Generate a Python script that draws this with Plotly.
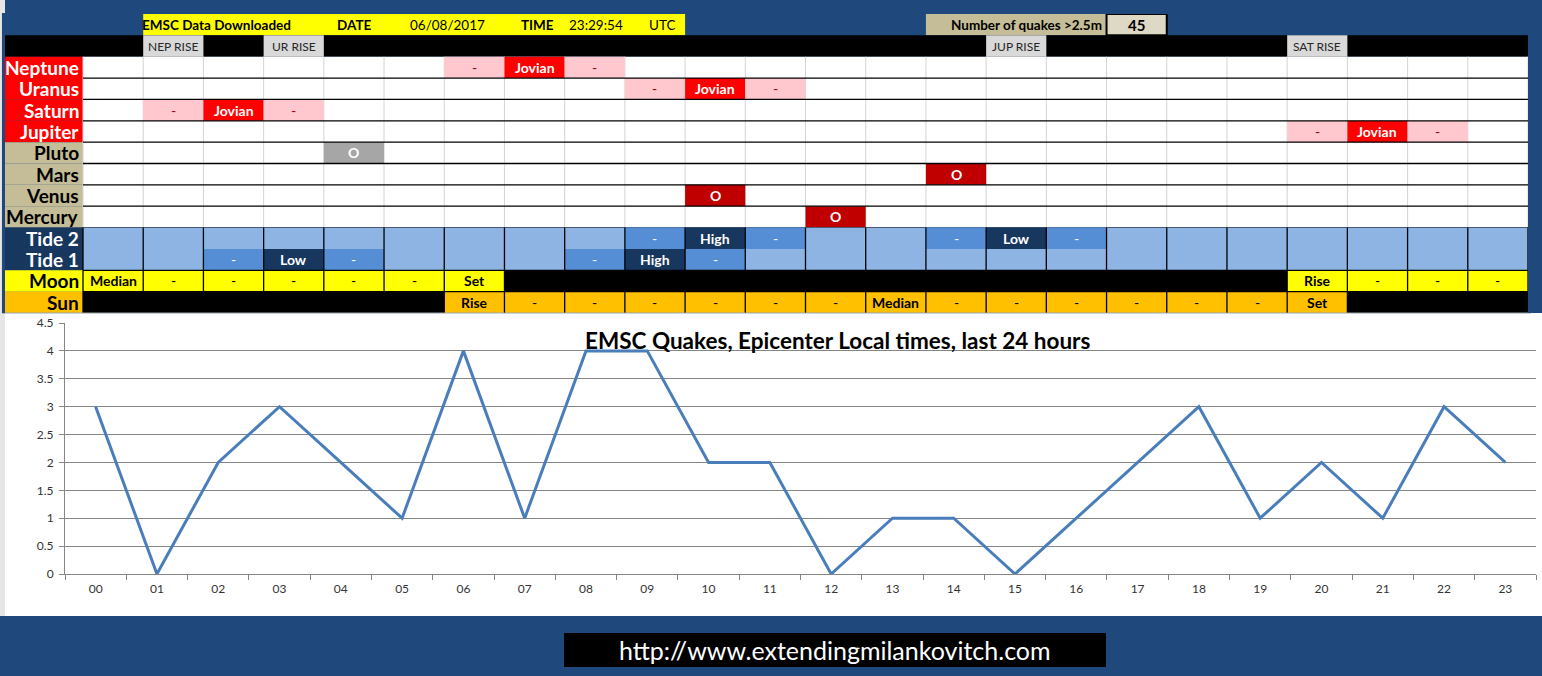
import plotly.graph_objects as go

# ---------------- data ----------------
hours = [f"{h:02d}" for h in range(24)]
quakes = [3, 0, 2, 3, 2, 1, 4, 1, 4, 4, 2, 2, 0, 1, 1, 0, 1, 2, 3, 1, 2, 1, 3, 2]

download_date = "06/08/2017"
download_time = "23:29:54"

planets = ["Neptune", "Uranus", "Saturn", "Jupiter", "Pluto", "Mars", "Venus", "Mercury"]
jovian_hour = {"Neptune": 7, "Uranus": 10, "Saturn": 2, "Jupiter": 21}
opposition_hour = {"Pluto": 4, "Mars": 14, "Venus": 10, "Mercury": 12}
rise_labels = {1: "NEP RISE", 3: "UR RISE", 15: "JUP RISE", 20: "SAT RISE"}

tide2 = [""] * 9 + ["-", "High", "-"] + ["", ""] + ["-", "Low", "-"] + [""] * 7
tide1 = ["", "", "-", "Low", "-", "", "", "", "-", "High", "-"] + [""] * 13
moon = ["Median", "-", "-", "-", "-", "-", "Set"] + [None] * 13 + ["Rise", "-", "-", "-"]
sun = [None] * 6 + ["Rise"] + ["-"] * 6 + ["Median"] + ["-"] * 6 + ["Set"] + [None] * 3

# ---------------- styles ----------------
W, H = 1542, 676
FONT = "Lato"
BG = "#1F497D"
RED = "#FF0000"
PINK = "#FFC7CE"
DKRED_TXT = "#9C0006"
TAN = "#C4BD97"
LTAN = "#DDD9C4"
GREY = "#D9D9D9"
PLUTO = "#A6A6A6"
OPP = "#C00000"
TIDE_L = "#8DB4E2"
TIDE_M = "#558ED5"
NAVY = "#17375E"
YEL = "#FFFF00"
ORA = "#FFC000"
PEACH = "#FDEADA"
LINE = "#4A7EBB"
AX = "#868686"
CELL_FS = 14
LABEL_FS = 19


def px(x):
    return x / W


def py(y):
    return 1 - y / H


TABLE_L, COL0, TABLE_R, TABLE_T, TABLE_B = 5, 83, 1528, 14, 313
col_w = (TABLE_R - COL0) / 24
LX = -(COL0 - TABLE_L) / col_w  # label column left edge in column units


def cx(x):
    return (x - COL0) / col_w


shapes = []
ann = []


def rect(x0, x1, r0, r1, fill, lc=None, lw=0, xref="x2", yref="y2", layer="above"):
    shapes.append(dict(type="rect", xref=xref, yref=yref, x0=x0, x1=x1, y0=r0, y1=r1,
                       fillcolor=fill, layer=layer,
                       line=dict(width=lw, color=lc or fill)))


def seg(x0, x1, y0, y1, color="black", w=1):
    shapes.append(dict(type="line", xref="x2", yref="y2", x0=x0, x1=x1, y0=y0, y1=y1,
                       layer="above", line=dict(width=w, color=color)))


def txt(x, y, s, color="black", size=CELL_FS, bold=True, xanchor="center"):
    ann.append(dict(x=x, y=y, xref="x2", yref="y2", text=f"<b>{s}</b>" if bold else s,
                    showarrow=False, xanchor=xanchor, yanchor="middle",
                    font=dict(family=FONT, size=size, color=color)))


# paper-level backgrounds
rect(px(0), px(5), py(616), 1, "#E6E6E6", xref="paper", yref="paper", layer="below")
rect(px(5), px(1542), py(616), py(313), "white", xref="paper", yref="paper", layer="below")

# cover the table subplot
rect(-0.002, 1.002, -0.001, 1.003, BG, xref="x2 domain", yref="y2 domain")

# header row (row 0)
rect(1, 10, 0, 1, YEL)
rect(14, 17, 0, 1, TAN)
rect(17, 18, 0, 1, LTAN, lc="black", lw=2)
txt(cx(140), 0.5, "EMSC Data Downloaded", size=13.5, xanchor="left")
txt(cx(335), 0.5, "DATE", size=13.5, xanchor="left")
txt(cx(408), 0.5, download_date, size=13.5, bold=False, xanchor="left")
txt(cx(519), 0.5, "TIME", size=13.5, xanchor="left")
txt(cx(567), 0.5, download_time, size=13.5, bold=False, xanchor="left")
txt(cx(647), 0.5, "UTC", size=13.5, bold=False, xanchor="left")
txt(16.95, 0.5, "Number of quakes >2.5m", size=13.5, xanchor="right")
txt(17.5, 0.5, str(sum(quakes)), size=15)

# rise row (row 1)
rect(LX, 24, 1, 2, "black")
for h, lab in rise_labels.items():
    rect(h, h + 1, 1, 2, GREY)
    txt(h + 0.5, 1.5, lab, color="#262626", size=12, bold=False)

# planet rows (rows 2..9)
P0 = 2
rect(0, 24, P0, P0 + len(planets), "white")
for i, p in enumerate(planets):
    r = P0 + i
    rect(LX, 0, r, r + 1, RED if p in jovian_hour else TAN)
for x in range(25):
    seg(x, x, P0, P0 + len(planets), color="#D4D4D4", w=1)
for i, p in enumerate(planets):
    r = P0 + i
    if p in jovian_hour:
        h = jovian_hour[p]
        rect(h - 1, h, r, r + 1, PINK)
        rect(h, h + 1, r, r + 1, RED)
        rect(h + 1, h + 2, r, r + 1, PINK)
        txt(h - 0.5, r + 0.5, "-", color=DKRED_TXT, bold=False)
        txt(h + 0.5, r + 0.5, "Jovian", color="white")
        txt(h + 1.5, r + 0.5, "-", color=DKRED_TXT, bold=False)
    if p in opposition_hour:
        h = opposition_hour[p]
        rect(h, h + 1, r, r + 1, PLUTO if p == "Pluto" else OPP)
        txt(h + 0.5, r + 0.5, "O", color="white")
    txt(-0.04, r + 0.5, p, color="white" if p in jovian_hour else "black",
        size=LABEL_FS, xanchor="right")
for y in range(P0 + 1, P0 + len(planets) + 1):
    seg(0, 24, y, y, w=1.3)

# tide rows
T2, T1 = 10, 11
rect(0, 24, T2, T1 + 1, TIDE_L)
rect(LX, 0, T2, T1 + 1, NAVY)
for r, row, name in [(T2, tide2, "Tide 2"), (T1, tide1, "Tide 1")]:
    for h, v in enumerate(row):
        if v:
            rect(h, h + 1, r, r + 1, TIDE_M if v == "-" else NAVY)
            txt(h + 0.5, r + 0.5, v, color="white", bold=(v != "-"))
    txt(-0.04, r + 0.5, name, color="white", size=LABEL_FS, xanchor="right")
for x in range(25):
    seg(x, x, T2, T1 + 1, w=1.3)

# moon and sun rows
MO, SU = 12, 13
rect(LX, 0, MO, MO + 1, YEL)
rect(LX, 0, SU, SU + 1, ORA)
for r, row, col in [(MO, moon, YEL), (SU, sun, ORA)]:
    for h, v in enumerate(row):
        rect(h, h + 1, r, r + 1, "black" if v is None else col)
        if v is not None:
            txt(h + 0.5, r + 0.5, v, bold=(v != "-"))
txt(-0.04, MO + 0.5, "Moon", size=LABEL_FS, xanchor="right")
txt(-0.04, SU + 0.5, "Sun", size=LABEL_FS, xanchor="right")
for x in range(25):
    seg(x, x, MO, SU + 1, w=1.3)
for y in (MO, SU):
    seg(0, 24, y, y, w=1.3)
seg(LX, 24, SU + 1, SU + 1, color="#A0A0A0", w=1)

# URL box
rect(px(564), px(1106), py(667), py(633), "black", xref="paper", yref="paper")
ann.append(dict(x=px(835), y=py(650), xref="paper", yref="paper", showarrow=False,
                text="http://www.extendingmilankovitch.com",
                font=dict(family=FONT, size=25, color="white"),
                xanchor="center", yanchor="middle"))

# chart title
ann.append(dict(x=px(838), y=py(340), xref="paper", yref="paper", showarrow=False,
                text="<b>EMSC Quakes, Epicenter Local times, last 24 hours</b>",
                font=dict(family=FONT, size=22.5, color="black"),
                xanchor="center", yanchor="middle"))

fig = go.Figure()
fig.add_trace(go.Scatter(x=hours, y=quakes, mode="lines",
                         line=dict(color=LINE, width=3), showlegend=False,
                         hoverinfo="x+y"))
fig.add_trace(go.Scatter(x=[None], y=[None], xaxis="x2", yaxis="y2",
                         showlegend=False, hoverinfo="skip"))

fig.update_layout(
    width=W, height=H, margin=dict(l=0, r=0, t=0, b=0, pad=0, autoexpand=False),
    paper_bgcolor=BG, plot_bgcolor=PEACH, showlegend=False,
    font=dict(family=FONT, color="#333333"),
    xaxis=dict(domain=[px(65), px(1536)], type="category", range=[-0.5, 23.5],
               tickson="boundaries", ticks="outside", ticklen=5, tickcolor=AX,
               showline=True, linecolor=AX, linewidth=1, showgrid=False,
               ticklabelstandoff=4, automargin=False,
               tickfont=dict(family=FONT, size=12, color="#333333"),
               fixedrange=True, anchor="y"),
    yaxis=dict(domain=[py(574), py(323)], range=[0, 4.5], dtick=0.5,
               ticks="outside", ticklen=5, tickcolor=AX, showline=True,
               linecolor=AX, linewidth=1, gridcolor=AX, gridwidth=1,
               zeroline=False, ticklabelstandoff=3, automargin=False,
               tickfont=dict(family=FONT, size=12, color="#333333"),
               fixedrange=True, anchor="x"),
    xaxis2=dict(domain=[px(TABLE_L), px(TABLE_R)], range=[LX, 24], visible=False,
                fixedrange=True, anchor="y2", automargin=False),
    yaxis2=dict(domain=[py(TABLE_B), py(TABLE_T)], range=[14, 0], visible=False,
                fixedrange=True, anchor="x2", automargin=False),
    shapes=shapes, annotations=ann,
)

post = ("document.documentElement.style.margin='0';"
        "document.documentElement.style.overflow='hidden';"
        "document.body.style.margin='0';document.body.style.overflow='hidden';"
        "var d=document.getElementById('{plot_id}');"
        "d.style.position='fixed';d.style.top='0px';d.style.left='0px';")

fig.write_html("out.html", config={"displayModeBar": False}, post_script=post)
